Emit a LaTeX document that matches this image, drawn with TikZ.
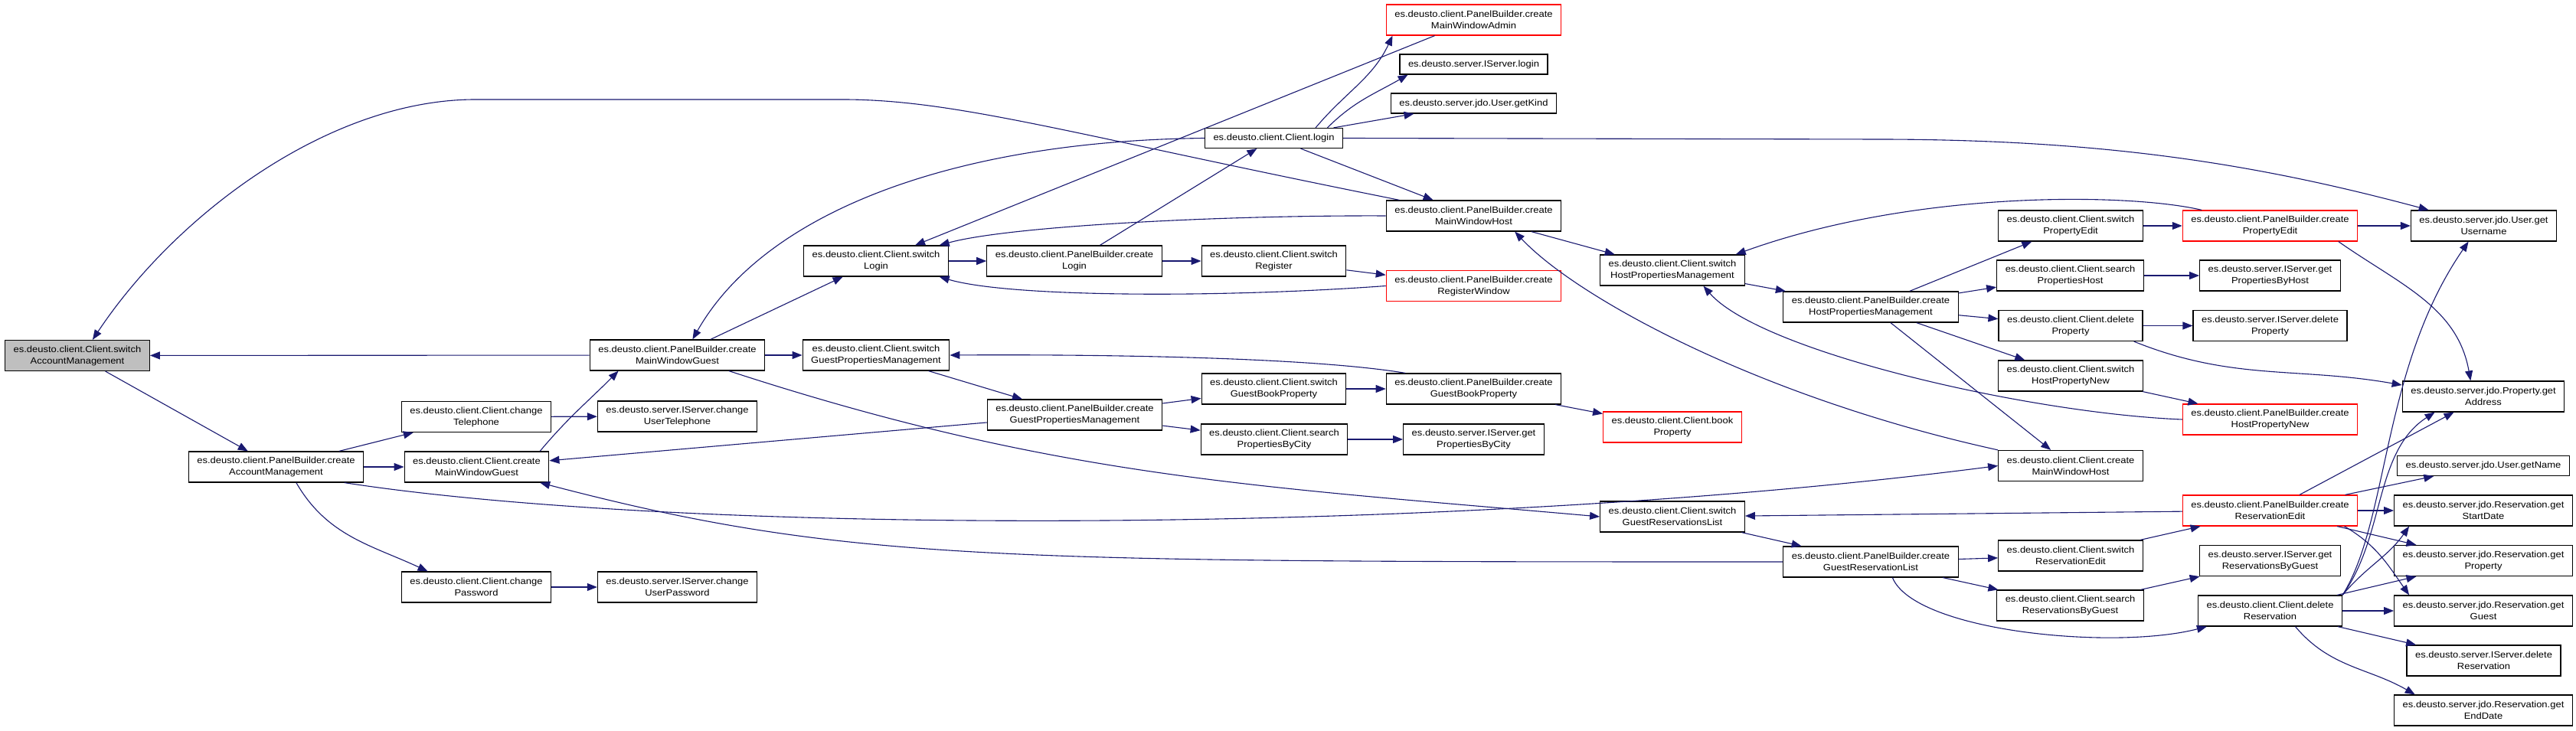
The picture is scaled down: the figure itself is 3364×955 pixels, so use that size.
\documentclass[tikz,border=0pt]{standalone}
\usepackage{fontspec}
\setmainfont{Liberation Sans}[FakeStretch=1.1]
\usepackage{tikz}
\usetikzlibrary{arrows.meta}
\definecolor{cEdge}{RGB}{25,25,112}
\definecolor{cRoot}{RGB}{191,191,191}
\definecolor{cTrunc}{RGB}{255,0,0}
\tikzset{
  fn/.style={draw=black, fill=white, line width=1.2pt, align=center,
             font=\fontsize{11.8}{15}\selectfont, inner xsep=11pt, inner ysep=3pt,
             minimum height=40pt},
  fnone/.style={fn, minimum height=26pt},
  fnroot/.style={fn, fill=cRoot},
  fntrunc/.style={fn, draw=cTrunc},
  call/.style={draw=cEdge, line width=1.1pt, -{Triangle[length=13pt,width=10pt]}},
}

\begin{document}
\begin{tikzpicture}[x=1pt,y=1pt]
  \useasboundingbox (0,0) rectangle (3364,955);

  \node[fnroot] (sAM) at (101,490.5) {es.deusto.client.Client.switch\\AccountManagement};
  \node[fn] (cAM) at (360.5,345) {es.deusto.client.PanelBuilder.create\\AccountManagement};
  \node[fn] (chTel) at (622,410.5) {es.deusto.client.Client.change\\Telephone};
  \node[fn] (cMWGc) at (622.5,345) {es.deusto.client.Client.create\\MainWindowGuest};
  \node[fn] (chPwd) at (622,188) {es.deusto.client.Client.change\\Password};
  \node[fn] (chUTel) at (884.5,411) {es.deusto.server.IServer.change\\UserTelephone};
  \node[fn] (chUPwd) at (884.5,188) {es.deusto.server.IServer.change\\UserPassword};
  \node[fn] (cMWGp) at (884.5,491) {es.deusto.client.PanelBuilder.create\\MainWindowGuest};
  \node[fn] (sLogin) at (1144,614) {es.deusto.client.Client.switch\\Login};
  \node[fn] (sGPM) at (1144,491) {es.deusto.client.Client.switch\\GuestPropertiesManagement};
  \node[fn] (cLogin) at (1403,614) {es.deusto.client.PanelBuilder.create\\Login};
  \node[fn] (cGPM) at (1403.5,413) {es.deusto.client.PanelBuilder.create\\GuestPropertiesManagement};
  \node[fnone] (login) at (1663.5,774.5) {es.deusto.client.Client.login};
  \node[fn] (sRegister) at (1663.5,614) {es.deusto.client.Client.switch\\Register};
  \node[fn] (sGBP) at (1663.5,447) {es.deusto.client.Client.switch\\GuestBookProperty};
  \node[fn] (sPBC) at (1664,381) {es.deusto.client.Client.search\\PropertiesByCity};
  \node[fntrunc] (cMWA) at (1924.5,929) {es.deusto.client.PanelBuilder.create\\MainWindowAdmin};
  \node[fnone] (ISlogin) at (1924.5,871) {es.deusto.server.IServer.login};
  \node[fnone] (getKind) at (1924.5,820) {es.deusto.server.jdo.User.getKind};
  \node[fn] (cMWH) at (1924.5,673) {es.deusto.client.PanelBuilder.create\\MainWindowHost};
  \node[fntrunc] (cRegWin) at (1924.5,581.5) {es.deusto.client.PanelBuilder.create\\RegisterWindow};
  \node[fn] (cGBP) at (1924.5,447) {es.deusto.client.PanelBuilder.create\\GuestBookProperty};
  \node[fn] (getPBC) at (1924.5,381) {es.deusto.server.IServer.get\\PropertiesByCity};
  \node[fn] (sHPM) at (2184,602) {es.deusto.client.Client.switch\\HostPropertiesManagement};
  \node[fntrunc] (bookProp) at (2184,397) {es.deusto.client.Client.book\\Property};
  \node[fn] (sGRL) at (2184,280) {es.deusto.client.Client.switch\\GuestReservationsList};
  \node[fn] (cHPM) at (2443,554) {es.deusto.client.PanelBuilder.create\\HostPropertiesManagement};
  \node[fn] (cGRL) at (2443,221) {es.deusto.client.PanelBuilder.create\\GuestReservationList};
  \node[fn] (sPE) at (2704,660) {es.deusto.client.Client.switch\\PropertyEdit};
  \node[fn] (sPH) at (2703.5,595) {es.deusto.client.Client.search\\PropertiesHost};
  \node[fn] (delProp) at (2704,529.5) {es.deusto.client.Client.delete\\Property};
  \node[fn] (sHPN) at (2704,464) {es.deusto.client.Client.switch\\HostPropertyNew};
  \node[fn] (cMWHc) at (2704,346.5) {es.deusto.client.Client.create\\MainWindowHost};
  \node[fn] (sRE) at (2704,229) {es.deusto.client.Client.switch\\ReservationEdit};
  \node[fn] (sRBG) at (2703.5,164) {es.deusto.client.Client.search\\ReservationsByGuest};
  \node[fntrunc] (cPE) at (2964.5,660) {es.deusto.client.PanelBuilder.create\\PropertyEdit};
  \node[fn] (getPBH) at (2964.5,595) {es.deusto.server.IServer.get\\PropertiesByHost};
  \node[fn] (ISdelProp) at (2964.5,529.5) {es.deusto.server.IServer.delete\\Property};
  \node[fntrunc] (cHPN) at (2964.5,407) {es.deusto.client.PanelBuilder.create\\HostPropertyNew};
  \node[fntrunc] (cRE) at (2964.5,288) {es.deusto.client.PanelBuilder.create\\ReservationEdit};
  \node[fn] (getRBG) at (2964.5,222.5) {es.deusto.server.IServer.get\\ReservationsByGuest};
  \node[fn] (delRes) at (2964.5,157) {es.deusto.client.Client.delete\\Reservation};
  \node[fn] (getUsername) at (3243.5,660) {es.deusto.server.jdo.User.get\\Username};
  \node[fn] (getAddress) at (3243,437) {es.deusto.server.jdo.Property.get\\Address};
  \node[fnone] (getName) at (3243,346.5) {es.deusto.server.jdo.User.getName};
  \node[fn] (StartDate) at (3243,288) {es.deusto.server.jdo.Reservation.get\\StartDate};
  \node[fn] (getProperty) at (3243,222.5) {es.deusto.server.jdo.Reservation.get\\Property};
  \node[fn] (getGuest) at (3243,157) {es.deusto.server.jdo.Reservation.get\\Guest};
  \node[fn] (ISdelRes) at (3243.5,92) {es.deusto.server.IServer.delete\\Reservation};
  \node[fn] (EndDate) at (3243,27) {es.deusto.server.jdo.Reservation.get\\EndDate};

  % straight calls
  \foreach \a/\b in {sAM/cAM, cAM/chTel, cAM/cMWGc, chTel/chUTel, chPwd/chUPwd,
      cGPM/cMWGc, cMWGp/sAM, cMWGp/sGPM, cMWGp/sLogin, cMWA/sLogin,
      sLogin/cLogin, cLogin/sRegister, cLogin/login, sRegister/cRegWin,
      login/getKind, login/cMWH, cMWH/sHPM, sHPM/cHPM, cHPM/sPE, cHPM/sPH,
      cHPM/delProp, cHPM/sHPN, cHPM/cMWHc, sPE/cPE, cPE/getUsername,
      sPH/getPBH, delProp/ISdelProp, sHPN/cHPN, sGPM/cGPM, cGPM/sGBP,
      cGPM/sPBC, sGBP/cGBP, sPBC/getPBC, cGBP/bookProp, sGRL/cGRL, cRE/sGRL,
      cGRL/sRE, cGRL/sRBG, sRE/cRE, sRBG/getRBG, cRE/getAddress, cRE/getName,
      cRE/StartDate, cRE/getProperty, delRes/getProperty, delRes/getGuest,
      delRes/ISdelRes}
    \draw[call] (\a) -- (\b);

  % curved calls
  \draw[call] (cMWH.168) .. controls (1400,779) and (1250,825) .. (1100,825)
    -- (621,825) .. controls (430,825) and (230,675) .. (sAM.46);
  \draw[call] (cAM.-38) to[out=-60,in=155] (chPwd.162);
  \draw[call] (cMWGc.14) to[out=50,in=-135] (cMWGp.-165);
  \draw[call] (login.west) .. controls (1250,771) and (1000,680) .. (cMWGp.46);
  \draw[call] (cGRL.west) .. controls (1300,221) and (1100,221) .. (cMWGc.-14);
  \draw[call] (cMWGp.-17) .. controls (1379,331) and (1637,320) .. (sGRL.west);
  \draw[call] (cAM.-13) .. controls (900,255) and (1900,255) .. (cMWHc.west);
  \draw[call] (cMWH.west) .. controls (1600,674) and (1320,660) .. (sLogin.14);
  \draw[call] (cRegWin.west) .. controls (1600,566) and (1320,566) .. (sLogin.-14);
  \draw[call] (login.14) to[out=50,in=-115] (cMWA.-169);
  \draw[call] (login.11) to[out=45,in=-150] (ISlogin.-171);
  \draw[call] (login.east) -- (2450,773) .. controls (2750,773) and (2950,740) .. (getUsername.164);
  \draw[call] (cMWHc.north west) .. controls (2300,435) and (2060,565) .. (cMWH.-21);
  \draw[call] (cHPN.west) .. controls (2650,415) and (2300,495) .. (sHPM.-27);
  \draw[call] (cPE.167) .. controls (2780,703) and (2500,707) .. (sHPM.14);
  \draw[call] (cPE.-13) to[out=-35,in=100] (getAddress.129);
  \draw[call] (delProp.-14) to[out=-22,in=170] (getAddress.172);
  \draw[call] (cGBP.167) .. controls (1700,490) and (1400,492) .. (sGPM.east);
  \draw[call] (cGRL.-36) .. controls (2500,130) and (2760,105) .. (delRes.-166);
  \draw[call] (cRE.-12) to[out=-30,in=125] (getGuest.168);
  \draw[call] (delRes.north east) .. controls (3120,275) and (3110,475) .. (getUsername.-134);
  \draw[call] (delRes.north east) .. controls (3115,255) and (3100,365) .. (getAddress.-162);
  \draw[call] (delRes.north east) to[out=50,in=-125] (StartDate.-168);
  \draw[call] (delRes.-32) to[out=-50,in=150] (EndDate.167);
\end{tikzpicture}
\end{document}
